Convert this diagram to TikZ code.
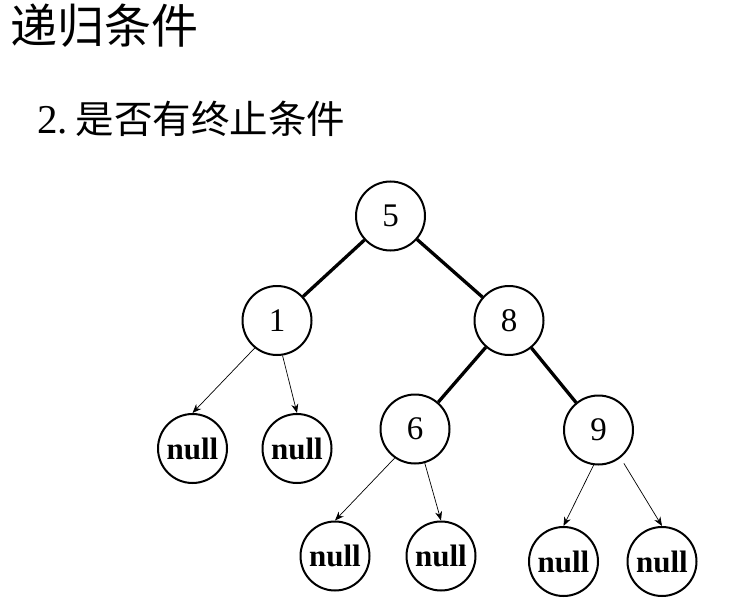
\documentclass[tikz,border=0pt]{standalone}
\usepackage{fontspec}
\setmainfont{Liberation Serif}
\newfontfamily\cjk{Noto Sans CJK SC}
\usetikzlibrary{arrows.meta}
\begin{document}
\begin{tikzpicture}[x=1pt,y=-1pt,
  tnode/.style={circle,draw,line width=2pt,minimum size=69pt,inner sep=0pt,font=\fontsize{33}{33}\selectfont},
  nullnode/.style={tnode,font=\bfseries\fontsize{31}{31}\selectfont},
  thickedge/.style={line width=3.3pt},
  thinarrow/.style={line width=0.7pt,-{Stealth[length=9pt,width=7pt]}}]
\useasboundingbox (0,0) rectangle (741,607);
\node[anchor=base west,inner sep=0pt,font=\cjk\fontsize{47}{47}\selectfont] (title) at (10,44) {递归条件};
\node[anchor=base west,inner sep=0pt] (sub) at (37,133) {\fontsize{41}{41}\selectfont 2.\hspace{8pt}\cjk\fontsize{38.5}{38.5}\selectfont 是否有终止条件};
\node[tnode] (n5) at (390.5,216) {5};
\node[tnode] (n1) at (277,320.5) {1};
\node[tnode] (n8) at (509,320.5) {8};
\node[tnode] (n6) at (415,429) {6};
\node[tnode] (n9) at (598.5,430) {9};
\node[nullnode] (a) at (192.5,448.5) {null};
\node[nullnode] (b) at (297,448.5) {null};
\node[nullnode] (c) at (335,556) {null};
\node[nullnode] (d) at (441,556) {null};
\node[nullnode] (e) at (563.5,561.5) {null};
\node[nullnode] (f) at (662,561.5) {null};
\draw[thickedge] (n5) -- (n1);
\draw[thickedge] (n5) -- (n8);
\draw[thickedge] (n8) -- (n6);
\draw[thickedge] (n8) -- (n9);
\draw[thinarrow] (n1.231) -- (a.north);
\draw[thinarrow] (n1.279) -- (b.north);
\draw[thinarrow] (n6.235) -- (c.north);
\draw[thinarrow] (n6.286) -- (d.north);
\draw[thinarrow] (n9.262) -- (e.north);
\draw[thinarrow] ([shift={(4,5)}]n9.307) -- (f.north);
\end{tikzpicture}
\end{document}
